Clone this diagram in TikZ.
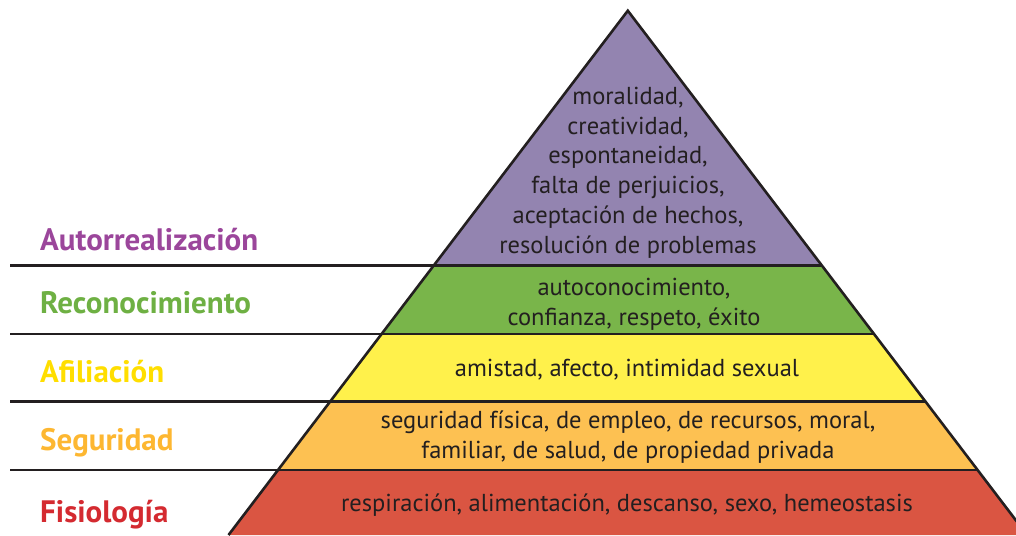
\documentclass[tikz,border=0pt]{standalone}
\usepackage{fontspec}
\setmainfont{PT Sans}
\definecolor{cpurple}{HTML}{9384B0}
\definecolor{cgreen}{HTML}{79B54A}
\definecolor{cyellow}{HTML}{FFF14B}
\definecolor{corange}{HTML}{FDC152}
\definecolor{cred}{HTML}{DA5542}
\definecolor{ctext}{HTML}{231F20}
\definecolor{lpurple}{HTML}{9B469B}
\definecolor{lgreen}{HTML}{6EB043}
\definecolor{lyellow}{HTML}{FFDE00}
\definecolor{lorange}{HTML}{FDB731}
\definecolor{lred}{HTML}{D42A30}
\tikzset{
  edge/.style={line width=2.6pt, draw=ctext},
  body/.style={text=ctext, align=center, font=\fontsize{24.5}{29.8}\selectfont, inner sep=0pt},
  lab/.style={anchor=west, inner sep=0pt, font=\fontsize{31}{34}\selectfont\bfseries},
}
\begin{document}
\begin{tikzpicture}[x=1pt,y=-1pt]
\useasboundingbox (0,0) rectangle (1016,535);
\begin{scope}
\clip (0,0) rectangle (1016,535);
% band corner coordinates
\coordinate (apex) at (627.8,10.7);
\coordinate (l1) at (433.9,265.3); \coordinate (r1) at (821.7,265.3);
\coordinate (l2) at (381.6,334);   \coordinate (r2) at (874,334);
\coordinate (l3) at (330.1,401.7); \coordinate (r3) at (925.5,401.7);
\coordinate (l4) at (278,470);     \coordinate (r4) at (977.6,470);
\coordinate (l5) at (228.5,535);   \coordinate (r5) at (1027.1,535);
\coordinate (s1) at (10,265.3);
\coordinate (s2) at (10,334);
\coordinate (s3) at (10,401.7);
\coordinate (s4) at (10,470);
\fill[cpurple] (apex) -- (r1) -- (l1) -- cycle;
\fill[cgreen] (l1) -- (r1) -- (r2) -- (l2) -- cycle;
\fill[cyellow] (l2) -- (r2) -- (r3) -- (l3) -- cycle;
\fill[corange] (l3) -- (r3) -- (r4) -- (l4) -- cycle;
\fill[cred] (l4) -- (r4) -- (r5) -- (l5) -- cycle;
\draw[edge] (s1) -- (r1);
\draw[edge] (s2) -- (r2);
\draw[edge] (s3) -- (r3);
\draw[edge] (s4) -- (r4);
\draw[edge, line join=miter] (l5) -- (apex) -- (r5);
\end{scope}
\node[body] (t1) at (628,172.5) {moralidad,\\creatividad,\\espontaneidad,\\falta de perjuicios,\\aceptación de hechos,\\resolución de problemas};
\node[body] (t2) at (634,304) {autoconocimiento,\\confianza, respeto, éxito};
\node[body] (t3) at (627,370) {amistad, afecto, intimidad sexual};
\node[body] (t4) at (628,437) {seguridad física, de empleo, de recursos, moral,\\familiar, de salud, de propiedad privada};
\node[body] (t5) at (627,505) {respiración, alimentación, descanso, sexo, hemeostasis};
\node[lab, text=lpurple] (a1) at (40,240) {Autorrealización};
\node[lab, text=lgreen] (a2) at (40,303) {Reconocimiento};
\node[lab, text=lyellow] (a3) at (40,372) {Afiliación};
\node[lab, text=lorange] (a4) at (40,443) {Seguridad};
\node[lab, text=lred] (a5) at (40,515) {Fisiología};
\end{tikzpicture}
\end{document}
